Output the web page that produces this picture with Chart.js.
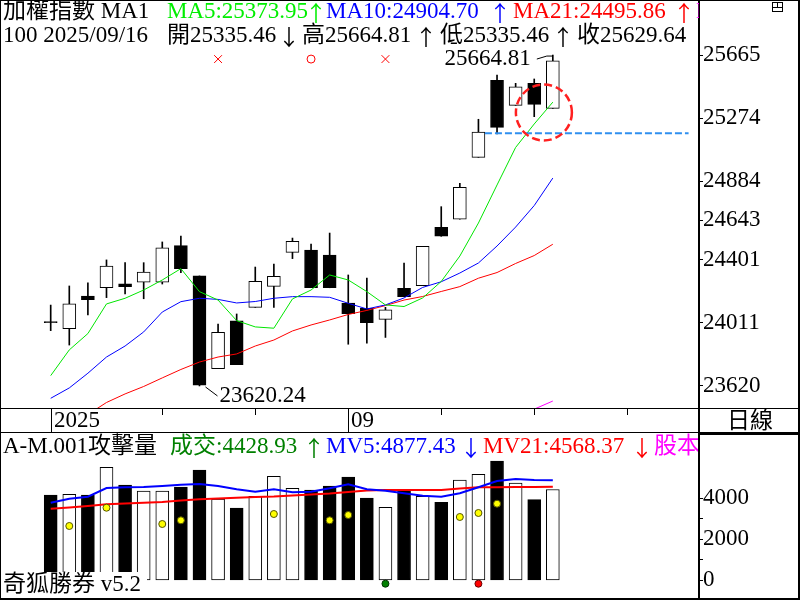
<!DOCTYPE html>
<html>
<head>
<meta charset="utf-8">
<script src="https://cdn.jsdelivr.net/npm/chart.js@4.4.1/dist/chart.umd.min.js"></script>
<style>
  html, body { margin: 0; padding: 0; background: #fff; }
  #wrap { position: relative; width: 800px; height: 600px; overflow: hidden; background: #fff; }
  #priceBox { position: absolute; left: 0; top: 0; width: 800px; height: 433px; }
  #volBox { position: absolute; left: 0; top: 433px; width: 800px; height: 167px; }
  #frame { position: absolute; left: 0; top: 0; width: 800px; height: 600px; box-sizing: border-box;
           border: 1px solid #000; border-right-width: 2px; border-bottom-width: 2px; pointer-events: none; }
</style>
</head>
<body>
<div id="wrap">
  <div id="priceBox"><canvas id="priceChart" width="800" height="433"></canvas></div>
  <div id="volBox"><canvas id="volChart" width="800" height="167"></canvas></div>
  <div id="frame"></div>
</div>
<script>
// Daily candles (index 0 .. 27, last one is 2025/09/16)
const opens  = [24018, 23974, 24176, 24227, 24252, 24261, 24261, 24487, 24300, 23727, 24022, 24106, 24236, 24446,
                24460, 24429, 24133, 24100, 24032, 24224, 24240, 24600, 24650, 25033, 25509, 25354, 25490, 25335.46];
const highs  = [24120, 24238, 24258, 24399, 24382, 24382, 24510, 24547, 24300, 24003, 24065, 24355, 24374, 24534,
                24497, 24565, 24306, 24287, 24106, 24380, 24483, 24728, 24872, 25268, 25541, 25490, 25517, 25664.81];
const lows   = [23962, 23873, 24059, 24166, 24189, 24159, 24250, 24320, 23620.24, 23727, 23752, 24106, 24106, 24407,
                24227, 24227, 23878, 23884, 23920, 24172, 24240, 24545, 24650, 25033, 25177, 25354, 25284, 25335.46];
const closes = [24012, 24127, 24153, 24361, 24234, 24324, 24473, 24345, 23625, 23952, 23752, 24267, 24298, 24514,
                24227, 24227, 24067, 24011, 24090, 24172, 24483, 24545, 24848, 25189, 25218, 25469, 25360, 25629.64];

// moving averages
const ma5  = [23684, 23843, 23944, 24127, 24162, 24213, 24275, 24345, 24203, 24151, 24024, 23985, 23977, 24158,
              24213, 24306, 24275, 24203, 24121, 24111, 24164, 24266, 24423, 24627, 24862, 25094, 25239, 25373.95];
const ma10 = [23544, 23608, 23699, 23799, 23867, 23954, 24077, 24141, 24162, 24155, 24133, 24142, 24162, 24172,
              24172, 24168, 24131, 24096, 24121, 24164, 24229, 24264, 24318, 24380, 24485, 24602, 24735, 24904.70];
const ma21 = [23317, 23385, 23444, 23518, 23571, 23617, 23670, 23722, 23768, 23799, 23818, 23867, 23904, 23960,
              23997, 24028, 24062, 24087, 24117, 24151, 24173, 24204, 24234, 24286, 24321, 24377, 24426, 24495.86];
const ma60 = [null, null, null, null, null, null, null, null, null, null, null, null, null, null,
              null, null, null, null, null, null, null, null, null, null, null, null, 23477, 23527];

// volume panel
const volumes = [4161, 4195, 4161, 5512, 4649, 4356, 4356, 4551, 5380, 3966, 3527, 4097, 5073, 4488,
                 4405, 4600, 5039, 4015, 3561, 4405, 4097, 3805, 4893, 5171, 5820, 4746, 3932, 4428.93];
const mv5  = [3785, 3980, 4078, 4502, 4537, 4551, 4600, 4663, 4698, 4600, 4439, 4322, 4439, 4293,
              4322, 4488, 4683, 4439, 4371, 4244, 4127, 4078, 4244, 4537, 4844, 4941, 4893, 4877.43];
const mv21 = [3493, 3551, 3624, 3707, 3746, 3785, 3820, 3893, 3951, 3990, 4029, 4063, 4088, 4137,
              4185, 4234, 4307, 4380, 4405, 4405, 4405, 4405, 4478, 4537, 4537, 4551, 4551, 4568.37];
const attackIdx  = [1, 3, 6, 7, 12, 15, 16, 22, 23, 24];
const attackVals = [2649, 3541, 2746, 2927, 3234, 2927, 3185, 3088, 3283, 3737];
const buyIdx = [18];
const sellIdx = [23];
const signalVolLevel = -166;

// signals / annotations on the price panel
const crossIdx = [9, 18];
const ringIdx = [14];
const signalPriceLevel = 25640;
const supportLevel = 25181;
const supportFrom = 23.35, supportTo = 34.3;
const circleIdx = 26.52, circlePrice = 25310;

// axes
const priceTicks = [23620, 24011, 24401, 24643, 24884, 25274, 25665];
const priceMin = 23484, priceMax = 26005;
const volTicks = [0, 1000, 2000, 3000, 4000];
const volMin = -863, volMax = 7185;
const xMin = -2.726, xMax = 34.86;
const dateLabels = [{ i: 0, text: '2025' }, { i: 16, text: '09' }];
const dateTicks = [6, 11, 21, 26, 31];
const highIdx = 27, lowIdx = 8;

const FONT = '23px "Liberation Serif", "Noto Sans CJK TC", serif';
const ARROW_FONT = '22px "Noto Sans CJK TC", sans-serif';

const pts = arr => arr.map((v, i) => ({ x: i, y: v })).filter(p => p.y !== null);
const isUp = i => closes[i] > opens[i];

// text segments: [text, x, colour, arrow, arrowCentre]; the text is squeezed to end before its arrow
function drawSegs(ctx, segs, y) {
  ctx.textBaseline = 'middle';
  segs.forEach(s => {
    ctx.font = FONT;
    ctx.textAlign = 'left';
    ctx.fillStyle = s[2];
    if (s[3]) {
      ctx.fillText(s[0], s[1], y, s[4] - 8 - s[1]);
      ctx.font = ARROW_FONT;
      ctx.textAlign = 'center';
      ctx.fillText(s[3], s[4], y + 1);
    } else {
      ctx.fillText(s[0], s[1], y);
    }
  });
}

const yAxisBase = {
  position: 'right',
  afterFit: s => { s.width = 101; s.paddingTop = 0; s.paddingBottom = 0; },
  grid: { drawOnChartArea: false, drawTicks: true, tickLength: 4, color: '#000' },
  border: { display: true, color: '#000', width: 2 }
};

const priceDecor = {
  id: 'priceDecor',
  afterDatasetsDraw(chart) {
    const { ctx, scales: { x, y } } = chart;
    ctx.save();
    // dashed circle
    ctx.strokeStyle = '#ff2020';
    ctx.lineWidth = 2.5;
    ctx.setLineDash([8, 4]);
    ctx.beginPath();
    ctx.arc(x.getPixelForValue(circleIdx), y.getPixelForValue(circlePrice), 28, 0, Math.PI * 2);
    ctx.stroke();
    ctx.setLineDash([]);
    // high / low labels
    ctx.strokeStyle = '#000';
    ctx.lineWidth = 1;
    const xh = x.getPixelForValue(highIdx), yh = y.getPixelForValue(highs[highIdx]);
    ctx.beginPath(); ctx.moveTo(xh - 16, yh + 4); ctx.lineTo(xh - 6, yh + 1); ctx.lineTo(xh, yh + 1); ctx.stroke();
    const xl = x.getPixelForValue(lowIdx), yl = y.getPixelForValue(lows[lowIdx]);
    ctx.beginPath(); ctx.moveTo(xl + 6, yl + 1); ctx.lineTo(xl + 18, yl + 10); ctx.stroke();
    ctx.font = FONT;
    ctx.fillStyle = '#000';
    ctx.textBaseline = 'middle';
    ctx.textAlign = 'right';
    ctx.fillText(highs[highIdx].toFixed(2), xh - 22, yh + 4);
    ctx.textAlign = 'left';
    ctx.fillText(lows[lowIdx].toFixed(2), xl + 20, yl + 10);
    ctx.restore();
  },
  afterDraw(chart) {
    const { ctx, chartArea: a, scales: { x } } = chart;
    ctx.save();
    // header text
    drawSegs(ctx, [
      ['加權指數 MA1', 3, '#000'],
      ['MA5:' + ma5[27].toFixed(2), 167, '#00ee00', '↑', 316],
      ['MA10:' + ma10[27].toFixed(2), 326, '#0000ff', '↑', 500],
      ['MA21:' + ma21[27].toFixed(2), 513, '#ff0000', '↑', 684]
    ], 12);
    ctx.save();
    ctx.beginPath(); ctx.rect(0, 0, a.right, a.bottom); ctx.clip();
    drawSegs(ctx, [['MA60', 696, '#ff00ff']], 12);
    ctx.restore();
    drawSegs(ctx, [
      ['100 2025/09/16', 3, '#000'],
      ['開' + opens[27].toFixed(2), 167, '#000', '↓', 289],
      ['高' + highs[27].toFixed(2), 302, '#000', '↑', 426],
      ['低' + lows[27].toFixed(2), 440, '#000', '↑', 563],
      ['收' + closes[27].toFixed(2), 577, '#000']
    ], 36);

    // date row
    ctx.fillStyle = '#000';
    ctx.fillRect(0, a.bottom, 800, 1);
    ctx.fillRect(0, 432, 699, 1);
    ctx.fillRect(699, 432, 101, 1);
    ctx.fillRect(a.right - 1, a.bottom, 2, 433 - a.bottom);
    dateTicks.forEach(i => {
      const px = Math.round(x.getPixelForValue(i));
      ctx.fillRect(px, a.bottom, 1, 7);
    });
    dateLabels.forEach(d => {
      const px = Math.round(x.getPixelForValue(d.i));
      ctx.fillRect(px, a.bottom, 1, 433 - a.bottom);
      drawSegs(ctx, [[d.text, px + 3, '#000']], 421);
    });
    ctx.font = FONT;
    ctx.textAlign = 'center';
    ctx.fillStyle = '#000';
    ctx.fillText('日線', 750, 422);

    // small window icon top right
    ctx.strokeStyle = '#000';
    ctx.lineWidth = 1;
    ctx.strokeRect(772.5, 2.5, 10, 9);
    ctx.beginPath();
    ctx.moveTo(772.5, 7.5); ctx.lineTo(782.5, 7.5);
    ctx.moveTo(777.5, 2.5); ctx.lineTo(777.5, 7.5);
    ctx.stroke();
    ctx.restore();
  }
};

const volDecor = {
  id: 'volDecor',
  afterDraw(chart) {
    const { ctx, chartArea: a } = chart;
    ctx.save();
    ctx.fillStyle = '#000';
    ctx.fillRect(699, 0, 101, 2);
    drawSegs(ctx, [
      ['A-M.001攻擊量', 3, '#000'],
      ['成交:' + volumes[27].toFixed(2), 170, '#008000', '↑', 314],
      ['MV5:' + mv5[27].toFixed(2), 326, '#0000ff', '↓', 471],
      ['MV21:' + mv21[27].toFixed(2), 483, '#ff0000', '↓', 642]
    ], 14);
    ctx.save();
    ctx.beginPath(); ctx.rect(0, 0, a.right - 1, a.bottom); ctx.clip();
    drawSegs(ctx, [['股本', 654, '#ff00ff']], 14);
    ctx.restore();
    ctx.fillStyle = '#fff';
    ctx.fillRect(1, 139, 146, 26);
    drawSegs(ctx, [['奇狐勝券 v5.2', 3, '#000']], 152);
    ctx.restore();
  }
};

Chart.defaults.font.family = '"Liberation Serif", serif';
Chart.defaults.color = '#000';

new Chart(document.getElementById('priceChart'), {
  type: 'bar',
  data: {
    datasets: [
      { type: 'line', label: 'MA5', data: pts(ma5), borderColor: '#00e600', borderWidth: 1, pointRadius: 0, order: 3 },
      { type: 'line', label: 'MA10', data: pts(ma10), borderColor: '#0000ff', borderWidth: 1, pointRadius: 0, order: 3 },
      { type: 'line', label: 'MA21', data: pts(ma21), borderColor: '#ff0000', borderWidth: 1, pointRadius: 0, order: 3 },
      { type: 'line', label: 'MA60', data: pts(ma60), borderColor: '#ff00ff', borderWidth: 1, pointRadius: 0, order: 3 },
      { type: 'line', label: 'support', data: [{ x: supportFrom, y: supportLevel }, { x: supportTo, y: supportLevel }],
        borderColor: '#2f8fef', borderWidth: 2, borderDash: [7, 3], pointRadius: 0, order: 2 },
      { type: 'line', label: 'cross', showLine: false, data: crossIdx.map(i => ({ x: i, y: signalPriceLevel })),
        pointStyle: 'crossRot', pointRadius: 5.5, pointBorderColor: '#ff0000', pointBorderWidth: 1, order: 1 },
      { type: 'line', label: 'ring', showLine: false, data: ringIdx.map(i => ({ x: i, y: signalPriceLevel })),
        pointStyle: 'circle', pointRadius: 4, pointBorderColor: '#ff0000', pointBackgroundColor: 'rgba(0,0,0,0)',
        pointBorderWidth: 1, order: 1 },
      { label: 'wick', data: opens.map((_, i) => ({ x: i, y: [lows[i], highs[i]] })), backgroundColor: '#000',
        borderWidth: 0, barThickness: 1, grouped: false, order: 6 },
      { label: 'body', data: opens.map((o, i) => ({ x: i, y: [o, closes[i]] })),
        backgroundColor: opens.map((_, i) => isUp(i) ? '#fff' : '#000'), borderColor: '#000', borderWidth: 1,
        borderSkipped: false, barThickness: 13, grouped: false, order: 5 }
    ]
  },
  options: {
    responsive: false,
    animation: false,
    events: [],
    devicePixelRatio: 1,
    layout: { autoPadding: false, padding: { left: 0, right: 0, top: 0, bottom: 25 } },
    plugins: { legend: { display: false }, tooltip: { enabled: false } },
    scales: {
      x: { type: 'linear', min: xMin, max: xMax, offset: false, display: false },
      y: Object.assign({}, yAxisBase, {
        min: priceMin, max: priceMax,
        afterBuildTicks: s => { s.ticks = priceTicks.map(v => ({ value: v })); },
        ticks: { autoSkip: false, padding: 0, color: '#000', font: { family: 'Liberation Serif', size: 23 },
                 callback: v => String(v) }
      })
    }
  },
  plugins: [priceDecor]
});

new Chart(document.getElementById('volChart'), {
  type: 'bar',
  data: {
    datasets: [
      { type: 'line', label: 'MV5', data: pts(mv5), borderColor: '#0000ff', borderWidth: 2, pointRadius: 0, order: 3 },
      { type: 'line', label: 'MV21', data: pts(mv21), borderColor: '#ff0000', borderWidth: 2, pointRadius: 0, order: 3 },
      { type: 'line', label: 'attack', showLine: false, data: attackIdx.map((i, k) => ({ x: i, y: attackVals[k] })),
        pointRadius: 3.5, pointBackgroundColor: '#ffff00', pointBorderColor: '#555500', pointBorderWidth: 1, order: 1 },
      { type: 'line', label: 'buy', showLine: false, data: buyIdx.map(i => ({ x: i, y: signalVolLevel })),
        pointRadius: 3.5, pointBackgroundColor: '#008000', pointBorderColor: '#003300', pointBorderWidth: 1, order: 1 },
      { type: 'line', label: 'sell', showLine: false, data: sellIdx.map(i => ({ x: i, y: signalVolLevel })),
        pointRadius: 3.5, pointBackgroundColor: '#ff0000', pointBorderColor: '#660000', pointBorderWidth: 1, order: 1 },
      { label: 'volume', data: volumes.map((v, i) => ({ x: i, y: v })),
        backgroundColor: volumes.map((_, i) => isUp(i) ? '#fff' : '#000'), borderColor: '#000', borderWidth: 1,
        borderSkipped: false, barThickness: 13, grouped: false, order: 5 }
    ]
  },
  options: {
    responsive: false,
    animation: false,
    events: [],
    devicePixelRatio: 1,
    layout: { autoPadding: false, padding: { left: 0, right: 0, top: 0, bottom: 2 } },
    plugins: { legend: { display: false }, tooltip: { enabled: false } },
    scales: {
      x: { type: 'linear', min: xMin, max: xMax, offset: false, display: false },
      y: Object.assign({}, yAxisBase, {
        min: volMin, max: volMax,
        afterBuildTicks: s => { s.ticks = volTicks.map(v => ({ value: v })); },
        ticks: { autoSkip: false, padding: 0, color: '#000', font: { family: 'Liberation Serif', size: 23 },
                 callback: v => (v % 2000 === 0 ? String(v) : '') }
      })
    }
  },
  plugins: [volDecor]
});
</script>
</body>
</html>
